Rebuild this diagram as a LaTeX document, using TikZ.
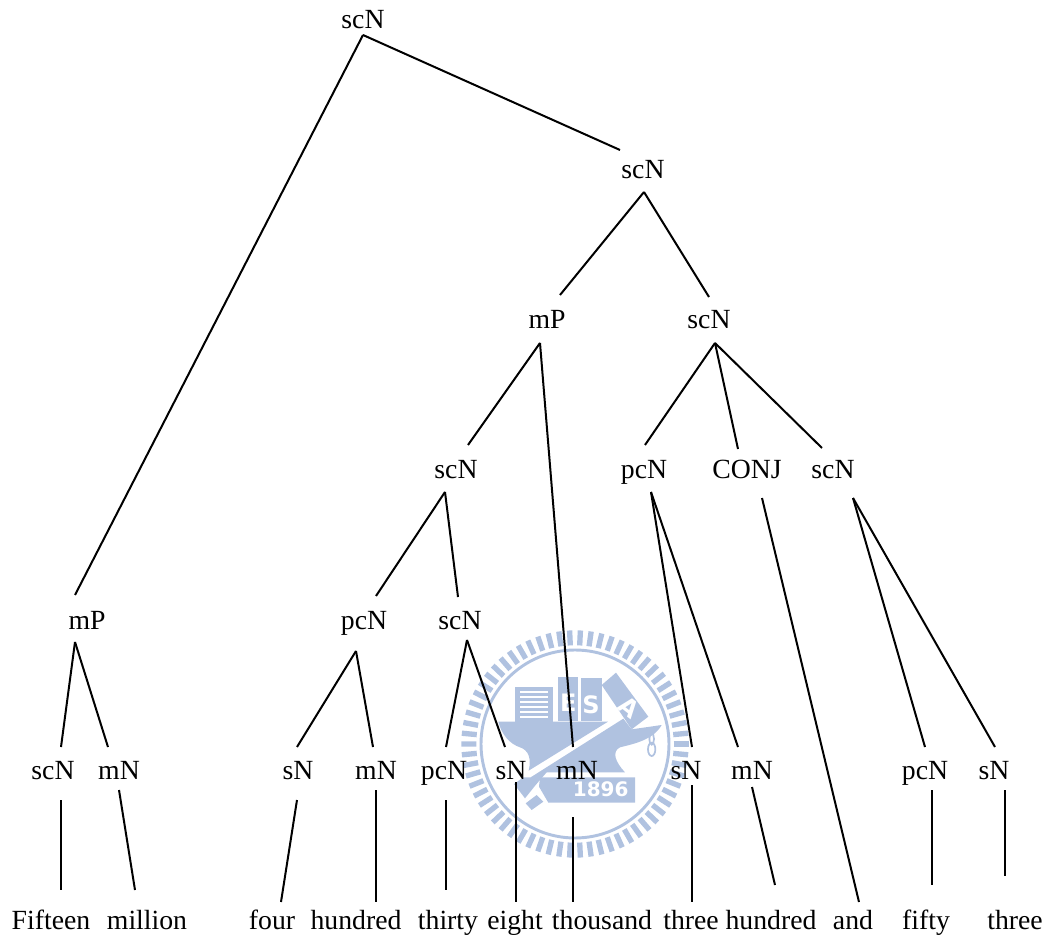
\documentclass[tikz,border=0pt]{standalone}
\usepackage{fontspec}
\setmainfont{Liberation Serif}
\newfontfamily\wmsans{DejaVu Sans}
\usetikzlibrary{calc}
\definecolor{wmblue}{HTML}{B0C2E0}
\tikzset{
  lab/.style={inner sep=0pt,outer sep=0pt,anchor=base,font=\fontsize{20.8pt}{24pt}\selectfont},
  edge/.style={black,line width=1.5pt},
  wm/.style={fill=wmblue,draw=none},
  wmw/.style={fill=white,draw=none},
  wmt/.style={text=white,inner sep=0pt,font=\wmsans\bfseries\fontsize{#1}{#1}\selectfont},
}
\newcommand{\conn}[6]{\draw[edge] ([shift={(#2,#3)}]#1.base) -- ([shift={(#5,#6)}]#4.base);}
\begin{document}
\begin{tikzpicture}[x=0.75pt,y=-0.75pt]
\useasboundingbox (0,0) rectangle (1051,941);
% watermark ring
\begin{scope}[shift={(460,620)},x=0.25pt,y=-0.25pt]
  \foreach \a in {0,5.4545,...,359} {
    \draw[wmblue,line width=4pt] ({345+296*cos(\a)},{372+296*sin(\a)}) -- ({345+341*cos(\a)},{372+341*sin(\a)});
  }
  \draw[wmblue,line width=2.2pt] (345,372) circle (282);
\end{scope}
% watermark emblem
\begin{scope}[shift={(490,670)},x=0.25pt,y=-0.25pt]
  % books
  \fill[wm] (75,52) rectangle (190,158);
  \foreach \yy in {62,77,92,107,122,137} { \fill[wmw] (90,\yy) rectangle (175,\yy+8); }
  \fill[wm] (205,20) rectangle (265,152);
  \fill[wm] (273,25) rectangle (335,152);
  % upper anvil
  \fill[wm] (25,155) -- (354,155) -- (116,302) .. controls (125,265) and (115,240) .. (90,232) .. controls (60,222) and (35,195) .. (25,155) -- cycle;
  % lower anvil and beam
  \fill[wm] (72,342) -- (100,322) -- (122,322) -- (400,146) -- (425,178) -- (515,165) .. controls (490,210) and (430,222) .. (390,232) .. controls (365,245) and (375,275) .. (405,307) -- (170,307) -- (137,345) -- (105,385) -- cycle;
  % foot
  \fill[wm] (150,322) -- (435,322) -- (435,398) -- (175,398) -- (147,350) -- cycle;
  \fill[wm] (107,400) -- (140,375) -- (160,395) -- (125,420) -- cycle;
  % hammer head
  \fill[wm] (335,45) -- (378,8) -- (475,140) -- (425,178) -- cycle;
  % white lettering
  \node[wmt=18pt] at (235,98) {E};
  \node[wmt=18pt] at (303,103) {S};
  \node[wmt=18pt,rotate=-38] at (418,112) {A};
  \node[wmt=15pt] at (332,357) {1896};
  % hook
  \draw[wmblue,line width=1.3pt] (485,207) ellipse (7 and 17);
  \draw[wmblue,line width=1.3pt] (485,238) ellipse (11 and 20);
\end{scope}
% labels
\node[lab] (r) at (363,29) {scN};
\node[lab] (a) at (643,179) {scN};
\node[lab] (b) at (547,329) {mP};
\node[lab] (c) at (709,329) {scN};
\node[lab] (d) at (456,479) {scN};
\node[lab] (e) at (644,479) {pcN};
\node[lab] (f) at (747,479) {CONJ};
\node[lab] (g) at (833,479) {scN};
\node[lab] (h) at (87,629) {mP};
\node[lab] (i) at (364,629) {pcN};
\node[lab] (j) at (460,629) {scN};
\node[lab] (k) at (53,779) {scN};
\node[lab] (l) at (119,779) {mN};
\node[lab] (m) at (298,779) {sN};
\node[lab] (n) at (376,779) {mN};
\node[lab] (o) at (444,779) {pcN};
\node[lab] (p) at (511,779) {sN};
\node[lab] (q) at (577,779) {mN};
\node[lab] (s) at (686,779) {sN};
\node[lab] (t) at (752,779) {mN};
\node[lab] (u) at (925,779) {pcN};
\node[lab] (v) at (994,779) {sN};
\node[lab] (w1) at (51,929) {Fifteen};
\node[lab] (w2) at (147,929) {million};
\node[lab] (w3) at (272,929) {four};
\node[lab] (w4) at (356,929) {hundred};
\node[lab] (w5) at (448,929) {thirty};
\node[lab] (w6) at (515,929) {eight};
\node[lab] (w7) at (602,929) {thousand};
\node[lab] (w8) at (691,929) {three};
\node[lab] (w9) at (771,929) {hundred};
\node[lab] (w10) at (853,929) {and};
\node[lab] (w11) at (926,929) {fifty};
\node[lab] (w12) at (1015,929) {three};
% connectors
\conn{r}{0}{6}{h}{-12}{-34}
\conn{r}{0}{6}{a}{-23}{-29}
\conn{a}{1}{13}{b}{13}{-34}
\conn{a}{1}{13}{c}{0}{-32}
\conn{b}{-7}{14}{d}{12}{-34}
\conn{b}{-7}{14}{q}{-4}{-32}
\conn{c}{6}{14}{e}{1}{-34}
\conn{c}{6}{14}{f}{-9}{-30}
\conn{c}{6}{14}{g}{-11}{-31}
\conn{d}{-11}{13}{i}{12}{-33}
\conn{d}{-11}{13}{j}{-2}{-32}
\conn{e}{7}{13}{s}{6}{-32}
\conn{e}{7}{13}{t}{-14}{-32}
\conn{f}{15}{19}{w10}{6}{-27}
\conn{g}{20}{19}{u}{0}{-32}
\conn{g}{20}{19}{v}{1}{-32}
\conn{h}{-12}{13}{k}{8}{-32}
\conn{h}{-12}{13}{l}{-11}{-32}
\conn{i}{-8}{22}{m}{-1}{-32}
\conn{i}{-8}{22}{n}{-3}{-32}
\conn{j}{7}{11}{o}{2}{-32}
\conn{j}{7}{11}{p}{-6}{-32}
\conn{k}{8}{21}{w1}{10}{-39}
\conn{l}{0}{11}{w2}{-12}{-39}
\conn{m}{-1}{21}{w3}{9}{-27}
\conn{n}{0}{11}{w4}{20}{-27}
\conn{o}{2}{21}{w5}{-2}{-39}
\conn{p}{5}{3}{w6}{1}{-27}
\conn{q}{-4}{38}{w7}{-29}{-27}
\conn{s}{6}{6}{w8}{1}{-27}
\conn{t}{0}{8}{w9}{4}{-44}
\conn{u}{7}{11}{w11}{6}{-44}
\conn{v}{11}{11}{w12}{-10}{-53}
\end{tikzpicture}
\end{document}
